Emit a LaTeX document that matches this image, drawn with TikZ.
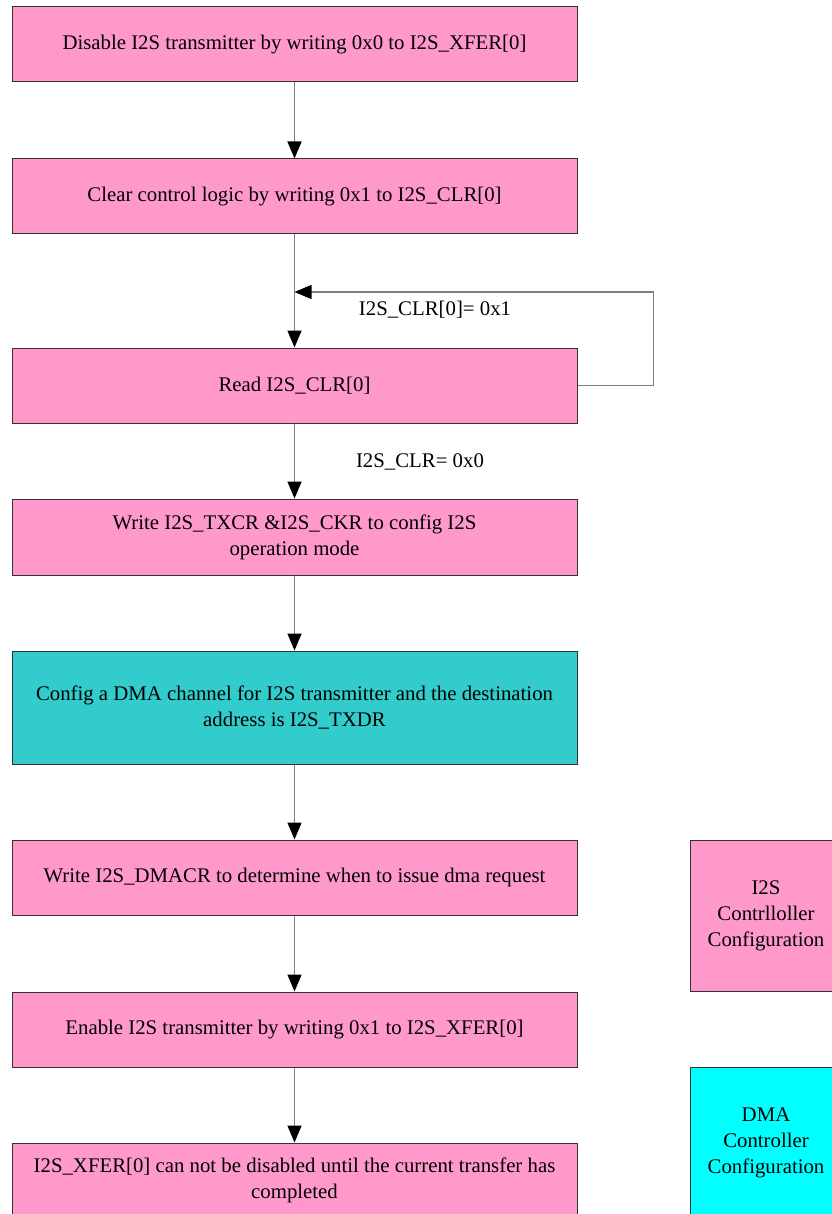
\documentclass[tikz,border=0pt]{standalone}
\usepackage{fontspec}
\setmainfont{Liberation Serif}
\usetikzlibrary{arrows.meta}
\definecolor{boxpink}{HTML}{FF99CC}
\definecolor{boxteal}{HTML}{33CCCC}
\definecolor{boxcyan}{HTML}{00FFFF}
\definecolor{linegray}{HTML}{808080}
\begin{document}
\begin{tikzpicture}[x=1pt,y=-1pt,
  stepbox/.style={draw=black!80, line width=1pt, fill=boxpink, minimum width=565pt,
    align=center, font=\fontsize{20.8}{26}\selectfont, inner sep=0pt},
  legendbox/.style={draw=black!80, line width=1pt, minimum width=152pt, minimum height=151pt,
    align=center, font=\fontsize{20.8}{26}\selectfont, inner sep=0pt},
  flow/.style={draw=linegray, line width=1.5pt, -{Triangle[length=17pt,width=14pt,color=black]}},
  lbl/.style={font=\fontsize{20.8}{26}\selectfont, inner sep=0pt}]
\useasboundingbox (0,0) rectangle (831,1214);

\node[stepbox, minimum height=75pt] (s1) at (294.5,44.5) {Disable I2S transmitter by writing 0x0 to I2S\_XFER[0]};
\node[stepbox, minimum height=75pt] (s2) at (294.5,196.5) {Clear control logic by writing 0x1 to I2S\_CLR[0]};
\node[stepbox, minimum height=75pt] (s3) at (294.5,385.5) {Read I2S\_CLR[0]};
\node[stepbox, minimum height=76pt] (s4) at (294.5,537) {Write I2S\_TXCR \&I2S\_CKR to config I2S\\operation mode};
\node[stepbox, fill=boxteal, minimum height=113pt] (s5) at (294.5,707.5) {Config a DMA channel for I2S transmitter and the destination\\address is I2S\_TXDR};
\node[stepbox, minimum height=75pt] (s6) at (294.5,877.5) {Write I2S\_DMACR to determine when to issue dma request};
\node[stepbox, minimum height=75pt] (s7) at (294.5,1029.5) {Enable I2S transmitter by writing 0x1 to I2S\_XFER[0]};
\node[stepbox, minimum height=75pt] (s8) at (294.5,1180.5) {I2S\_XFER[0] can not be disabled until the current transfer has\\completed};

\node[legendbox, fill=boxpink] (lg1) at (766,915.5) {I2S\\Contrlloller\\Configuration};
\node[legendbox, fill=boxcyan] (lg2) at (766,1142.5) {DMA\\Controller\\Configuration};

\draw[flow] (s1) -- (s2);
\draw[flow] (s2) -- (s3);
\draw[flow] (s3) -- (s4);
\draw[flow] (s4) -- (s5);
\draw[flow] (s5) -- (s6);
\draw[flow] (s6) -- (s7);
\draw[flow] (s7) -- (s8);

\coordinate (loopin) at (294.5,292);
\draw[flow] (s3.east) -- ++(76,0) |- (loopin);

\node[lbl] (c1) at (435,310) {I2S\_CLR[0]= 0x1};
\node[lbl] (c0) at (420,462) {I2S\_CLR= 0x0};
\end{tikzpicture}
\end{document}
